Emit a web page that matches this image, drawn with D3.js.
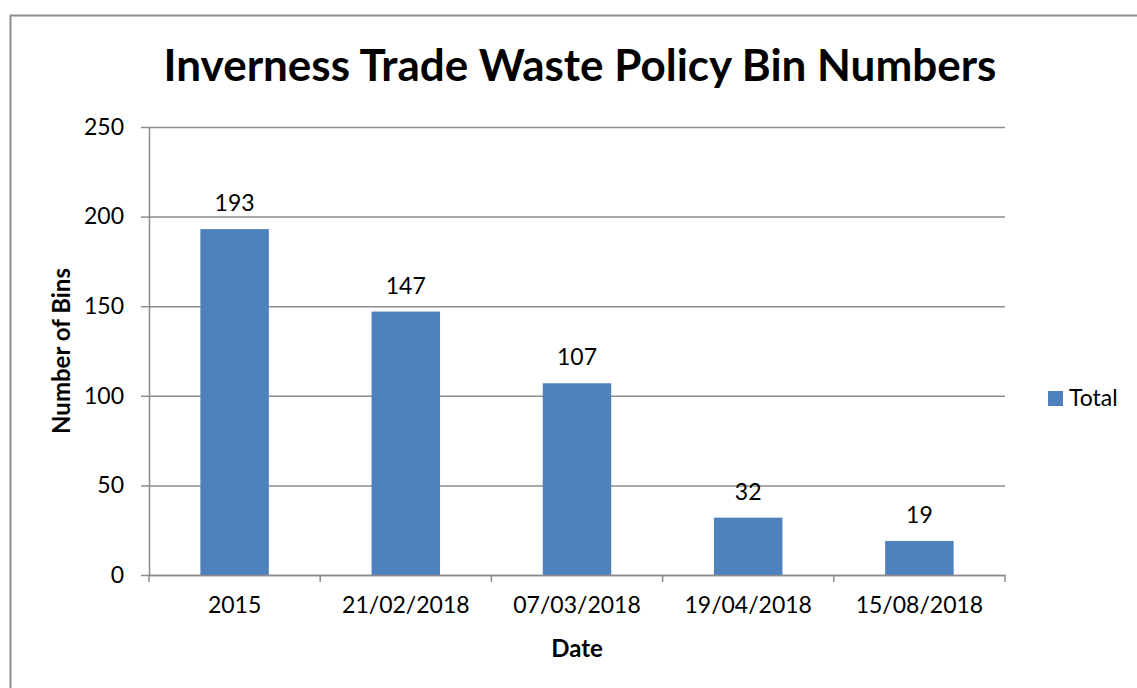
<!DOCTYPE html>
<html>
<head>
<meta charset="utf-8">
<script src="https://cdn.jsdelivr.net/npm/d3@7"></script>
<style>
  body { margin: 0; background: #fff; }
  text { font-family: Lato, "Open Sans", sans-serif; fill: #000; }
</style>
</head>
<body>
<div id="chart"></div>
<script>
// data
const categories = ["2015", "21/02/2018", "07/03/2018", "19/04/2018", "15/08/2018"];
const totals = [193, 147, 107, 32, 19];
const yTicks = [0, 50, 100, 150, 200, 250];
const seriesName = "Total";

const width = 1137, height = 688;
const margin = {top: 127, right: 132, bottom: 113, left: 149};

const svg = d3.select("#chart")
  .append("svg")
  .attr("width", width)
  .attr("height", height);

// chart border
svg.append("rect")
  .attr("x", 10.5).attr("y", 15.5)
  .attr("width", 1140).attr("height", 700)
  .attr("fill", "none")
  .attr("stroke", "#8c8c8c")
  .attr("stroke-width", 2);

const xScale = d3.scaleBand()
  .domain(categories)
  .range([margin.left, width - margin.right])
  .paddingInner(0.6)
  .paddingOuter(0.3);

const yScale = d3.scaleLinear()
  .domain([0, 250])
  .range([height - margin.bottom, margin.top]);

const plotW = width - margin.right - margin.left;

// gridlines
svg.append("g")
  .attr("class", "grid")
  .attr("transform", `translate(${margin.left},0)`)
  .call(d3.axisLeft(yScale).tickValues(yTicks).tickSize(-plotW).tickFormat(""))
  .call(g => g.select(".domain").remove())
  .call(g => g.selectAll("line").attr("stroke", "#8c8c8c").attr("stroke-width", 1.5));

// y axis with labels
svg.append("g")
  .attr("transform", `translate(${margin.left},0)`)
  .call(d3.axisLeft(yScale).tickValues(yTicks).tickSize(8).tickPadding(17).tickSizeOuter(0))
  .call(g => g.select(".domain").attr("stroke", "#8c8c8c").attr("stroke-width", 1.5))
  .call(g => g.selectAll("line").attr("stroke", "#8c8c8c").attr("stroke-width", 1.5))
  .call(g => g.selectAll("text").attr("font-size", "23px").attr("font-family", "Lato, sans-serif"));

// bars
svg.selectAll("rect.bar")
  .data(totals)
  .enter()
  .append("rect")
    .attr("class", "bar")
    .attr("x", (d, i) => xScale(categories[i]))
    .attr("y", d => yScale(d))
    .attr("width", xScale.bandwidth())
    .attr("height", d => yScale(0) - yScale(d))
    .attr("fill", "#4f81bd");

// data labels
svg.selectAll("text.label")
  .data(totals)
  .enter()
  .append("text")
    .attr("class", "label")
    .attr("x", (d, i) => xScale(categories[i]) + xScale.bandwidth() / 2)
    .attr("y", d => yScale(d) - 18)
    .attr("text-anchor", "middle")
    .attr("font-size", "23px")
    .text(d => d);

// x axis: labels centred on bands, ticks at band boundaries
svg.append("g")
  .attr("transform", `translate(0,${height - margin.bottom})`)
  .call(d3.axisBottom(xScale).tickSize(0).tickPadding(22))
  .call(g => g.select(".domain").attr("stroke", "#8c8c8c").attr("stroke-width", 1.5))
  .call(g => g.selectAll("text").attr("font-size", "23px").attr("font-family", "Lato, sans-serif"));

const step = xScale.step();
const bounds = categories.map(c => xScale(c) - step * 0.3).concat([width - margin.right]);
svg.append("g")
  .selectAll("line")
  .data(bounds)
  .enter()
  .append("line")
    .attr("x1", d => d).attr("x2", d => d)
    .attr("y1", height - margin.bottom)
    .attr("y2", height - margin.bottom + 7)
    .attr("stroke", "#8c8c8c")
    .attr("stroke-width", 1.5);

// titles
svg.append("text")
  .attr("x", 580)
  .attr("y", 81)
  .attr("text-anchor", "middle")
  .attr("font-size", "44px")
  .attr("font-weight", "bold")
  .text("Inverness Trade Waste Policy Bin Numbers");

svg.append("text")
  .attr("x", margin.left + plotW / 2)
  .attr("y", 657)
  .attr("text-anchor", "middle")
  .attr("font-size", "24px")
  .attr("font-weight", "bold")
  .text("Date");

svg.append("text")
  .attr("transform", `translate(70,${(margin.top + height - margin.bottom) / 2}) rotate(-90)`)
  .attr("text-anchor", "middle")
  .attr("font-size", "24px")
  .attr("font-weight", "bold")
  .text("Number of Bins");

// legend
const legend = svg.append("g").attr("transform", "translate(1048,391)");
legend.append("rect")
  .attr("width", 15).attr("height", 15)
  .attr("fill", "#4f81bd");
legend.append("text")
  .attr("x", 21).attr("y", 15)
  .attr("font-size", "23px")
  .text(seriesName);
</script>
</body>
</html>
